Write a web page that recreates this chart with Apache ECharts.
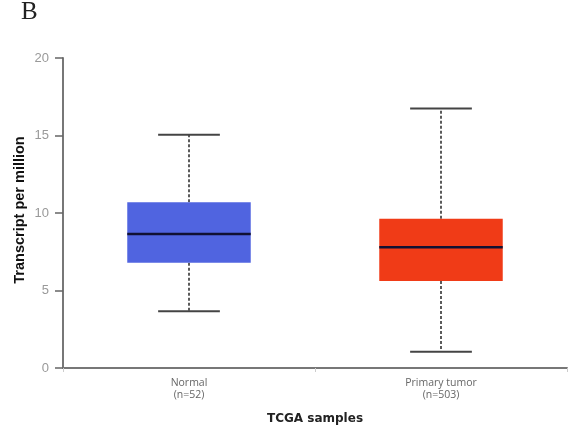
<!DOCTYPE html>
<html>
<head>
<meta charset="utf-8">
<script src="https://cdn.jsdelivr.net/npm/echarts@6/dist/echarts.min.js"></script>
<style>
  html, body { margin: 0; padding: 0; background: #fff; }
  #chart { width: 572px; height: 434px; }
</style>
</head>
<body>
<div id="chart"></div>
<script>
// Expression of the gene in TCGA samples (transcripts per million)
const categories = ['Normal\n(n=52)', 'Primary tumor\n(n=503)'];
const lowerWhisker = [3.66, 1.05];
const lowerQuartile = [6.79, 5.61];
const medianValue = [8.65, 7.79];
const upperQuartile = [10.69, 9.63];
const upperWhisker = [15.05, 16.75];
const yTicks = [0, 5, 10, 15, 20];

const boxFill = ['#5064e0', '#f03b17'];

const rows = categories.map((c, i) => [
  i, lowerWhisker[i], lowerQuartile[i], medianValue[i], upperQuartile[i], upperWhisker[i]
]);

function renderBox(params, api) {
  const idx = api.value(0);
  const band = api.size([1, 0])[0];
  const half = band * 0.245;
  const capHalf = half / 2;
  const pLow = api.coord([idx, api.value(1)]);
  const pQ1 = api.coord([idx, api.value(2)]);
  const pMed = api.coord([idx, api.value(3)]);
  const pQ3 = api.coord([idx, api.value(4)]);
  const pHigh = api.coord([idx, api.value(5)]);
  const cx = pMed[0];
  const whiskerStyle = { stroke: '#333', lineWidth: 1.6, lineDash: [3, 2] };
  const capStyle = { stroke: '#444', lineWidth: 2 };
  return {
    type: 'group',
    children: [
      { type: 'line', shape: { x1: cx, y1: pQ3[1], x2: cx, y2: pHigh[1] }, style: whiskerStyle },
      { type: 'line', shape: { x1: cx, y1: pQ1[1], x2: cx, y2: pLow[1] }, style: whiskerStyle },
      { type: 'line', shape: { x1: cx - capHalf, y1: pHigh[1], x2: cx + capHalf, y2: pHigh[1] }, style: capStyle },
      { type: 'line', shape: { x1: cx - capHalf, y1: pLow[1], x2: cx + capHalf, y2: pLow[1] }, style: capStyle },
      { type: 'rect', shape: { x: cx - half, y: pQ3[1], width: half * 2, height: pQ1[1] - pQ3[1] },
        style: { fill: boxFill[idx] } },
      { type: 'line', shape: { x1: cx - half, y1: pMed[1], x2: cx + half, y2: pMed[1] },
        style: { stroke: '#111133', lineWidth: 2.4 } }
    ]
  };
}

const chart = echarts.init(document.getElementById('chart'));
chart.setOption({
  animation: false,
  backgroundColor: '#ffffff',
  graphic: [{
    type: 'text', left: 21, top: 0,
    style: { text: 'B', font: '25px "Liberation Serif", "DejaVu Serif", serif', fill: '#222' }
  }],
  grid: { left: 63, right: 5, top: 58, bottom: 66 },
  xAxis: {
    type: 'category',
    data: categories,
    name: 'TCGA samples',
    nameLocation: 'middle',
    nameGap: 45,
    nameMoveOverlap: false,
    nameTextStyle: { fontFamily: '"DejaVu Sans", Verdana, sans-serif', fontWeight: 'bold', fontSize: 12, color: '#222' },
    axisLine: { lineStyle: { color: '#777', width: 2 } },
    axisTick: { show: true, length: 4, lineStyle: { color: '#ccc' } },
    axisLabel: { color: '#666', fontSize: 10.5, lineHeight: 12, margin: 9, fontFamily: '"Open Sans", "DejaVu Sans", sans-serif' }
  },
  yAxis: {
    type: 'value',
    min: yTicks[0],
    max: yTicks[yTicks.length - 1],
    interval: 5,
    name: 'Transcript per million',
    nameLocation: 'middle',
    nameGap: 36,
    nameMoveOverlap: false,
    nameTextStyle: { fontFamily: '"Liberation Sans", Arial, sans-serif', fontWeight: 'bold', fontSize: 14.5, color: '#111', padding: [0, 0, 0, 6] },
    axisLine: { show: true, lineStyle: { color: '#777', width: 2 } },
    axisTick: { show: true, length: 8, lineStyle: { color: '#666', width: 1.5 } },
    axisLabel: { color: '#999', fontSize: 13, margin: 14, fontFamily: '"Liberation Sans", Arial, sans-serif' },
    splitLine: { show: false }
  },
  series: [{
    type: 'custom',
    renderItem: renderBox,
    encode: { x: 0, y: [1, 2, 3, 4, 5] },
    data: rows
  }]
});
</script>
</body>
</html>
